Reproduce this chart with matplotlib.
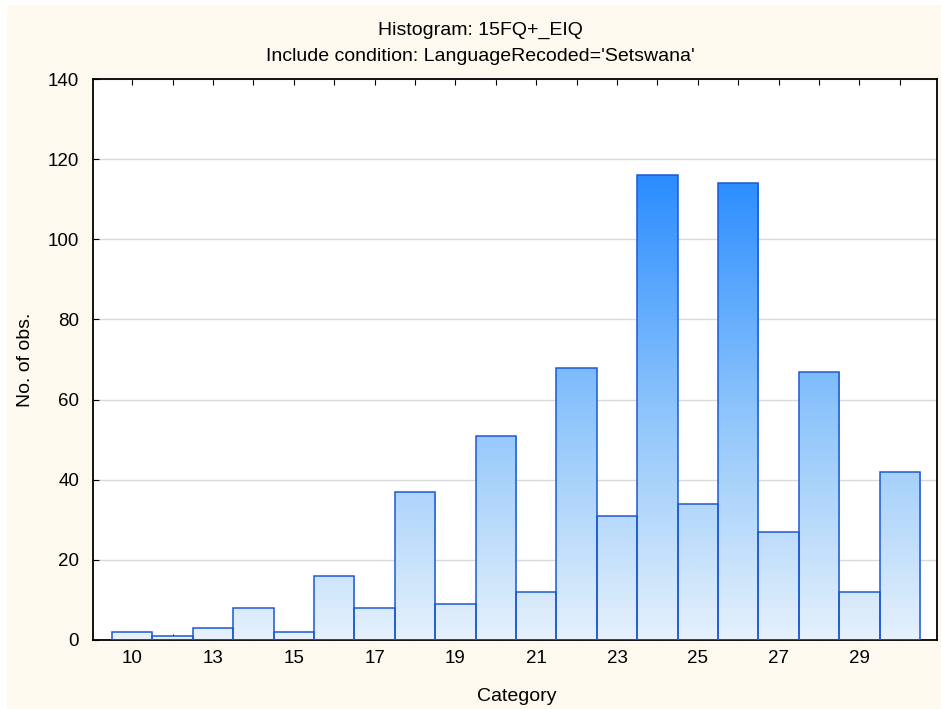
import matplotlib.pyplot as plt
import numpy as np
from matplotlib.colors import LinearSegmentedColormap
from matplotlib.patches import Rectangle

categories = [10] + list(range(12, 31))
counts = [2, 1, 3, 8, 2, 16, 8, 37, 9, 51, 12, 68, 31, 116, 34, 114, 27, 67, 12, 42]
tick_labels = ["10", "13", "15", "17", "19", "21", "23", "25", "27", "29"]

plt.rcParams["font.family"] = ["Liberation Sans", "DejaVu Sans"]

W, H = 941, 709
BG = "#fdf9ee"
EDGE = "#1c59d4"
grad = LinearSegmentedColormap.from_list("bars", ["#e6f1fc", "#8cc4fb", "#2a8cff"])

fig = plt.figure(figsize=(W / 100, H / 100), dpi=100, facecolor="white")
# cream panel with a thin white margin at top and left
fig.patches.append(Rectangle((7 / W, 0), 1, 1 - 5 / H, transform=fig.transFigure,
                             facecolor=BG, edgecolor="none", zorder=-10))

ax = fig.add_axes([93 / W, 1 - 640 / H, (937 - 93) / W, (640 - 79) / H])

x = np.arange(len(counts))
XLIM = (-0.97, 19.92)

ax.set_yticks(range(0, 141, 20))
ax.grid(True, axis="y", color="#dadada", linewidth=1)
ax.set_axisbelow(True)

bars = ax.bar(x, counts, width=1.0, color="none", edgecolor=EDGE, linewidth=1.1, zorder=3)

# vertical gradient keyed on absolute height, clipped to each bar
gradient = np.linspace(0, 1, 256).reshape(-1, 1)
for b in bars:
    im = ax.imshow(gradient, cmap=grad, origin="lower", aspect="auto",
                   extent=(XLIM[0], XLIM[1], 0, max(counts)), zorder=2)
    im.set_clip_path(b)
ax.set_xlim(*XLIM)
ax.set_ylim(0, 140)

ax.set_xticks(x)
ax.set_xticklabels([tick_labels[i // 2] if i % 2 == 0 else "" for i in x])
ax.tick_params(axis="x", direction="in", top=True, length=4, labelsize=13.5, pad=7)
ax.tick_params(axis="y", direction="in", length=4, labelsize=13.5, pad=10)
for s in ax.spines.values():
    s.set_linewidth(1.3)

fig.text(517 / W, 1 - 701 / H, "Category", ha="center", va="baseline", fontsize=14)
fig.text(26 / W, 1 - 359.5 / H, "No. of obs.", ha="center", va="center",
         rotation=90, fontsize=14)

fig.text(480 / W, 1 - 35 / H, "Histogram: 15FQ+_EIQ", ha="center", va="baseline", fontsize=14)
fig.text(480 / W, 1 - 61 / H, "Include condition: LanguageRecoded='Setswana'",
         ha="center", va="baseline", fontsize=14)

fig.savefig("out.png", dpi=100, facecolor="white")
